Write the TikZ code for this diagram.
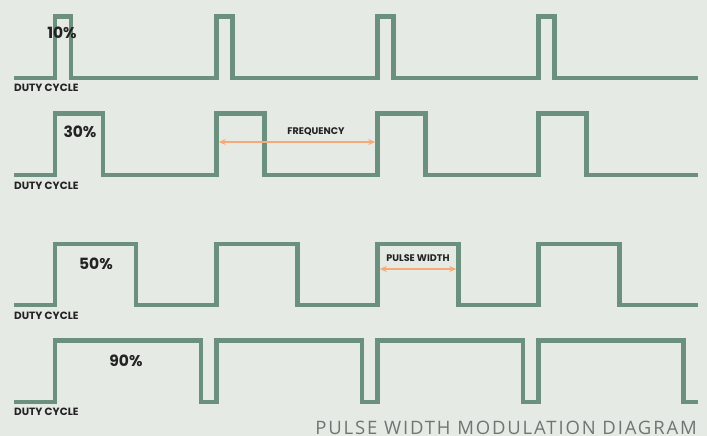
\documentclass[tikz,border=0pt]{standalone}
\usepackage{fontspec}
\setmainfont{Poppins}
\newfontfamily\titlefont[LetterSpace=10]{Open Sans}
\usetikzlibrary{positioning,arrows.meta}

\definecolor{bgcol}{RGB}{229,234,228}
\definecolor{wavecol}{RGB}{107,145,126}
\definecolor{spancol}{RGB}{247,170,120}
\definecolor{inkcol}{RGB}{35,35,35}
\definecolor{titlecol}{RGB}{112,117,114}

\begin{document}
\begin{tikzpicture}[x=1pt,y=-1pt,
    wave/.style={draw=wavecol, line width=4.5pt},
    span/.style={{Stealth[length=7pt,width=6pt]}-{Stealth[length=7pt,width=6pt]}, draw=spancol, fill=spancol, line width=1.8pt},
    duty/.style={font=\bfseries\fontsize{10.5}{11}\selectfont, text=inkcol, inner sep=0pt, anchor=north west},
    pct/.style={font=\bfseries\fontsize{15.5}{16}\selectfont, text=inkcol, inner sep=0pt},
    tag/.style={font=\bfseries\fontsize{9.6}{10}\selectfont, text=inkcol, inner sep=0pt}
]
    \fill[bgcol] (0,0) rectangle (707,436);
    \useasboundingbox (0,0) rectangle (707,436);

    % waveforms
    \coordinate (start1) at (14,78);
    \coordinate (start2) at (14,175);
    \coordinate (start3) at (14,305);
    \coordinate (start4) at (14,402);

    \draw[wave] (start1) -| (55,16.5) -| (71,78) -| (216.5,16.5) -| (232.5,78)
        -| (377.5,16.5) -| (393.5,78) -| (538.5,16.5) -| (554.5,78) -- (698,78);
    \draw[wave] (start2) -| (55,113.5) -| (103,175) -| (216.5,113.5) -| (264.5,175)
        -| (377.5,113.5) -| (425.5,175) -| (538.5,113.5) -| (586.5,175) -- (698,175);
    \draw[wave] (start3) -| (55,244) -| (136,305) -| (216.5,244) -| (297.5,305)
        -| (377.5,244) -| (458.5,305) -| (538.5,244) -| (619.5,305) -- (698,305);
    \draw[wave] (start4) -| (55,340.5) -| (201,402) -| (216.5,340.5) -| (362,402)
        -| (377.5,340.5) -| (523,402) -| (538.5,340.5) -| (683.5,402) -- (698,402);

    \node[duty, below=6pt of start1.south west, anchor=north west] (duty1) {DUTY CYCLE};
    \node[duty, below=7pt of start2.south west, anchor=north west] (duty2) {DUTY CYCLE};
    \node[duty, below=7pt of start3.south west, anchor=north west] (duty3) {DUTY CYCLE};
    \node[duty, below=6pt of start4.south west, anchor=north west] (duty4) {DUTY CYCLE};

    \node[pct] (p10) at (62,33) {10\%};
    \node[pct] (p30) at (80,132) {30\%};
    \node[pct] (p50) at (96,264) {50\%};
    \node[pct] (p90) at (126,361) {90\%};

    % frequency and pulse width
    \coordinate (freqa) at (218.75,142);
    \coordinate (freqb) at (375.25,142);
    \draw[span] (freqa) -- (freqb);
    \node[tag] (freq) at (316,132) {FREQUENCY};

    \coordinate (pwa) at (379.75,269);
    \coordinate (pwb) at (456.25,269);
    \draw[span] (pwa) -- (pwb);
    \node[tag] (pw) at (418,258) {PULSE WIDTH};

    \node[font=\titlefont\fontsize{18.5}{20}\selectfont, text=titlecol, inner sep=0pt, anchor=base east]
        (title) at (697,434) {PULSE WIDTH MODULATION DIAGRAM};
\end{tikzpicture}
\end{document}
